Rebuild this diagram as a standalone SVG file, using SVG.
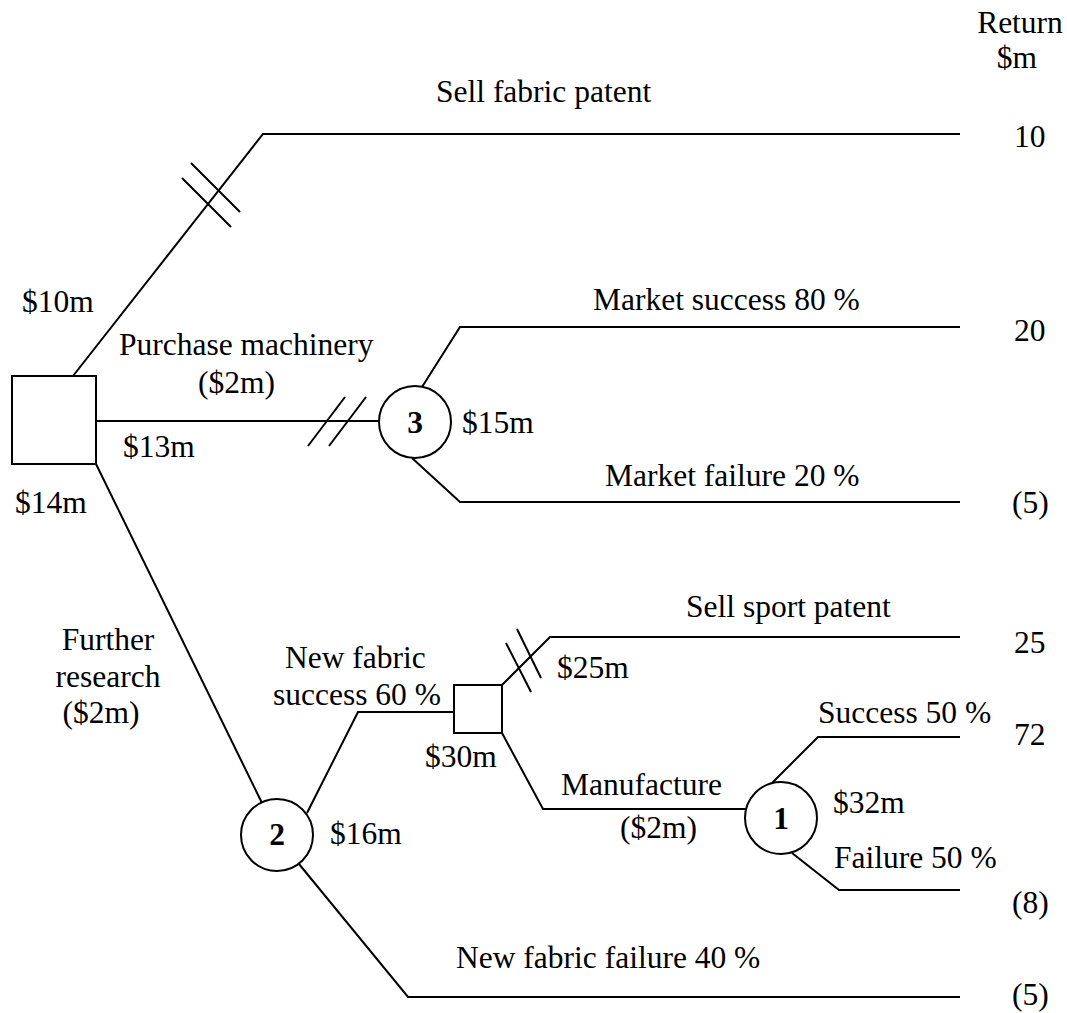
<svg xmlns="http://www.w3.org/2000/svg" width="1067" height="1013" viewBox="0 0 1067 1013">
<style>
  text { font-family: "Liberation Serif", "Times New Roman", serif; font-size: 31.5px; fill: #000; }
  .num { font-weight: bold; text-anchor: middle; }
  .mid { text-anchor: middle; }
  .line { fill: none; stroke: #000; stroke-width: 2; }
  .node { fill: #fff; stroke: #000; stroke-width: 2; }
</style>
<rect width="1067" height="1013" fill="#fff"/>
<g id="connectors" class="line">
  <polyline points="73,376 263,134 960,134"/>
  <line x1="191" y1="163" x2="240" y2="212"/>
  <line x1="182" y1="178" x2="231" y2="227"/>
  <line x1="96" y1="421" x2="379" y2="421"/>
  <line x1="308" y1="446" x2="345" y2="397"/>
  <line x1="329" y1="446" x2="366" y2="397"/>
  <polyline points="422,387 460,327 960,327"/>
  <polyline points="412,458 460,502 960,502"/>
  <line x1="96" y1="464" x2="262" y2="803"/>
  <polyline points="307,813 358,712 454,712"/>
  <polyline points="299,864 408,997 960,997"/>
  <polyline points="502,685 550,637 960,637"/>
  <line x1="506" y1="643" x2="531" y2="692"/>
  <line x1="517" y1="629" x2="541" y2="678"/>
  <polyline points="502,733 543,809 746,809"/>
  <polyline points="772,783 818,737 960,737"/>
  <polyline points="792,853 839,890 960,890"/>
</g>
<g id="decision-main">
  <rect class="node" x="12" y="376" width="84" height="88"/>
</g>
<g id="chance-3">
  <circle class="node" cx="415" cy="422" r="36"/>
  <text class="num" x="415" y="433">3</text>
</g>
<g id="chance-2">
  <circle class="node" cx="277" cy="835" r="36"/>
  <text class="num" x="277" y="845">2</text>
</g>
<g id="decision-small">
  <rect class="node" x="454" y="685" width="48" height="48"/>
</g>
<g id="chance-1">
  <circle class="node" cx="781" cy="818" r="36"/>
  <text class="num" x="781" y="829">1</text>
</g>
<g id="labels">
  <text class="mid" x="1020" y="33">Return</text>
  <text class="mid" x="1017" y="68">$m</text>
  <text x="436" y="102">Sell fabric patent</text>
  <text x="1014" y="147">10</text>
  <text x="22" y="312">$10m</text>
  <text x="119" y="355">Purchase machinery</text>
  <text x="198" y="393">($2m)</text>
  <text x="123" y="457">$13m</text>
  <text x="15" y="513">$14m</text>
  <text x="462" y="433">$15m</text>
  <text x="593" y="310">Market success 80 %</text>
  <text x="1014" y="341">20</text>
  <text x="605" y="486">Market failure 20 %</text>
  <text x="1012" y="513">(5)</text>
  <text class="mid" x="108" y="650">Further</text>
  <text class="mid" x="108" y="687">research</text>
  <text class="mid" x="101" y="723">($2m)</text>
  <text x="285" y="668">New fabric</text>
  <text x="273" y="705">success 60 %</text>
  <text x="686" y="617">Sell sport patent</text>
  <text x="1014" y="653">25</text>
  <text x="557" y="678">$25m</text>
  <text x="425" y="767">$30m</text>
  <text x="561" y="795">Manufacture</text>
  <text x="620" y="838">($2m)</text>
  <text x="818" y="723">Success 50 %</text>
  <text x="1014" y="745">72</text>
  <text x="833" y="813">$32m</text>
  <text x="834" y="868">Failure 50 %</text>
  <text x="1012" y="913">(8)</text>
  <text x="330" y="844">$16m</text>
  <text x="456" y="968">New fabric failure 40 %</text>
  <text x="1012" y="1005">(5)</text>
</g>
</svg>
